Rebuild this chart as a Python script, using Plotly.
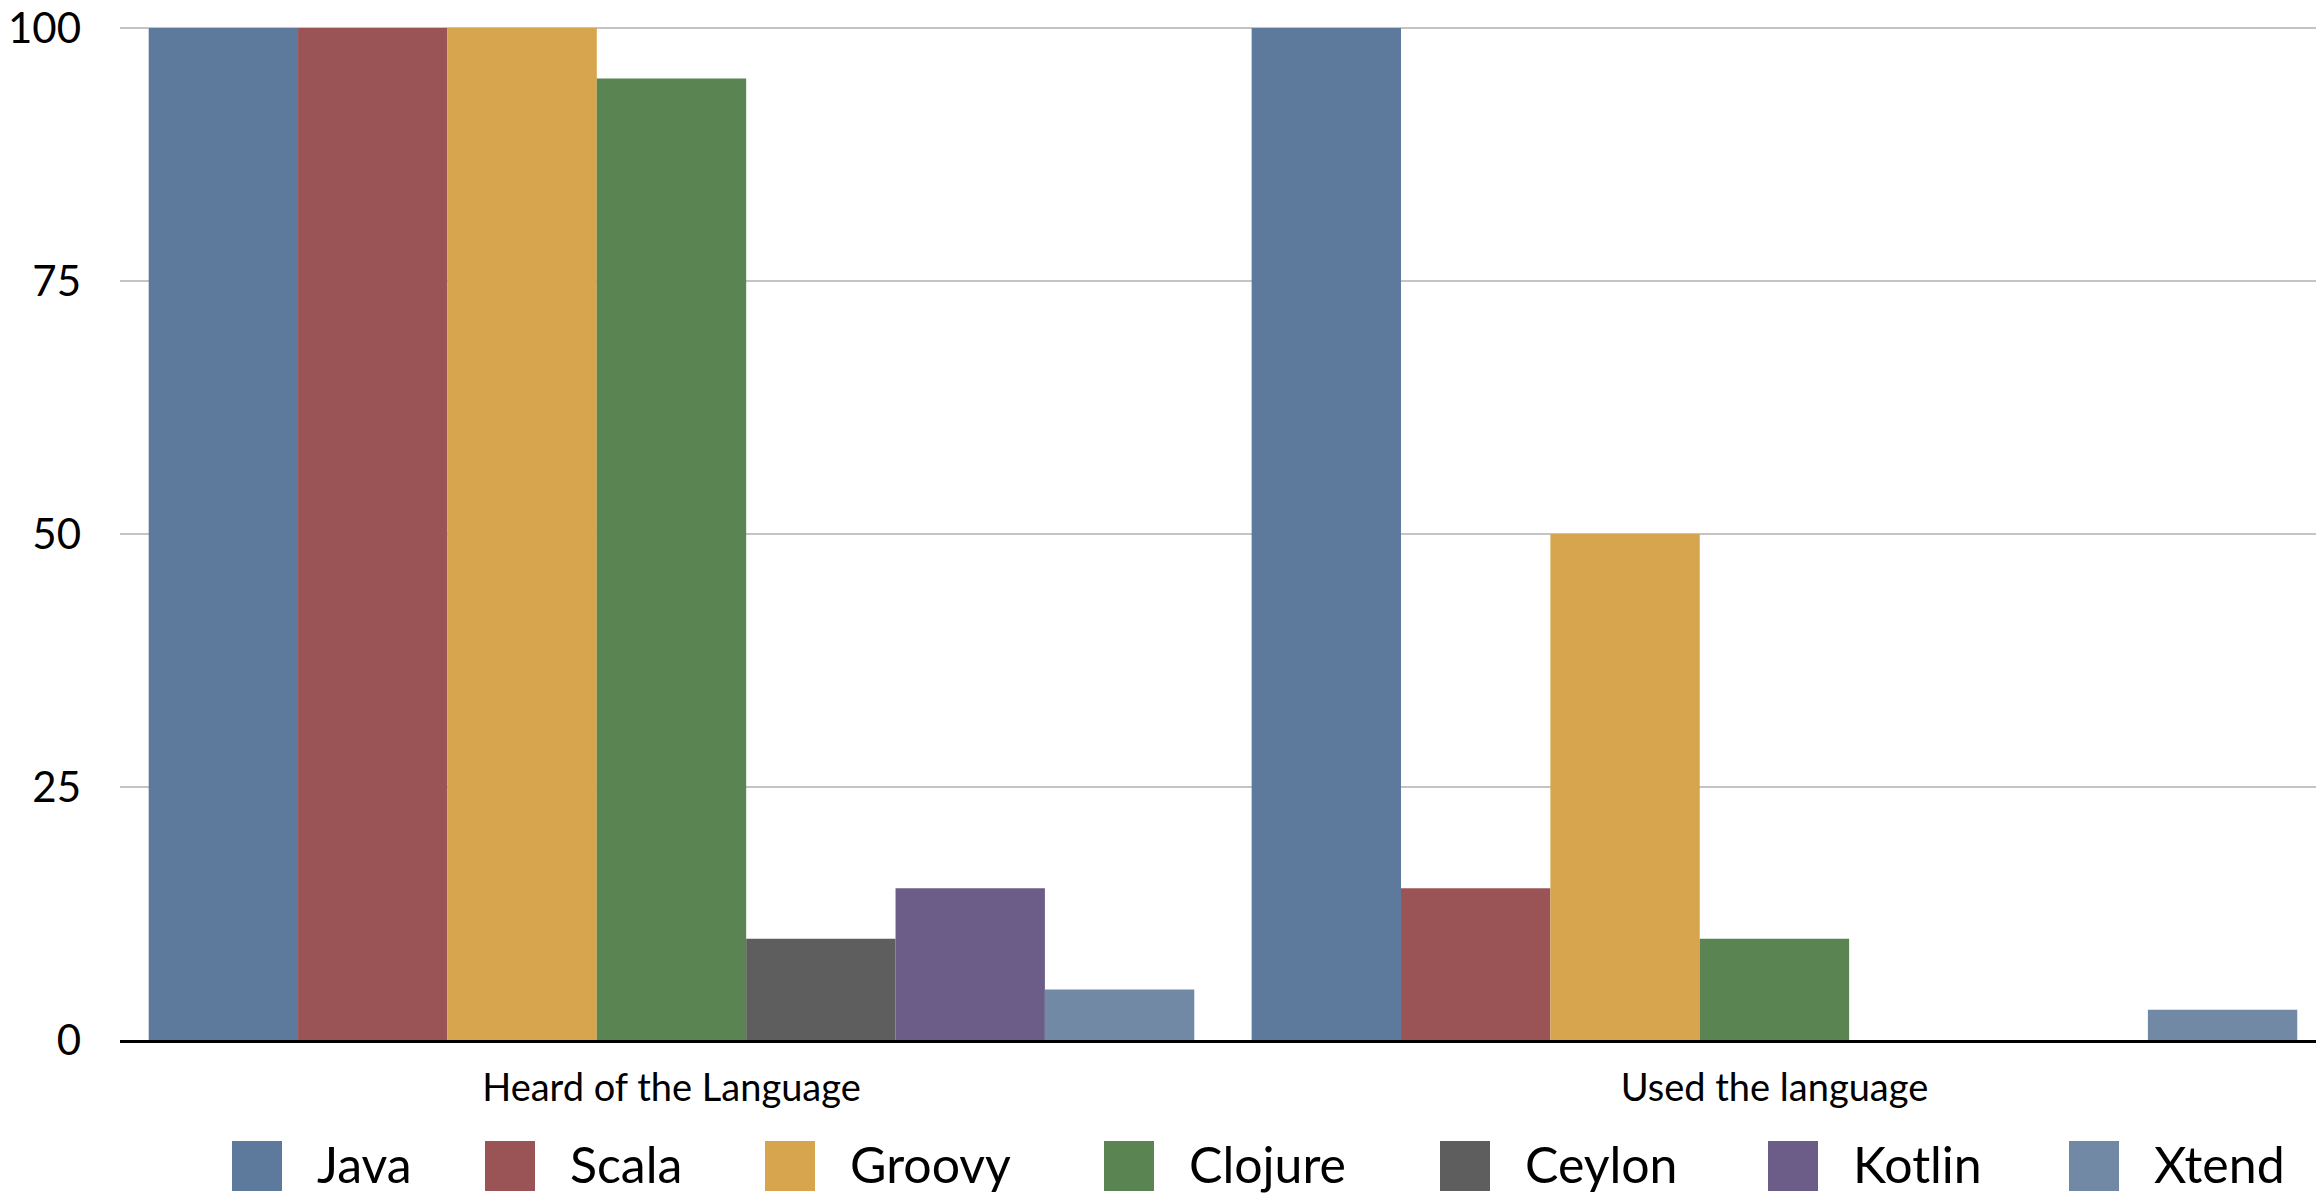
import plotly.graph_objects as go

categories = ["Heard of the Language", "Used the language"]
languages = ["Java", "Scala", "Groovy", "Clojure", "Ceylon", "Kotlin", "Xtend"]
heard = [100, 100, 100, 95, 10, 15, 5]
used = [100, 15, 50, 10, 0, 0, 3]
y_ticks = [0, 25, 50, 75, 100]

colors = ["#5d799c", "#9a5456", "#d7a54d", "#5a8553", "#5e5e5e", "#6c5c88", "#7289a6"]

W, H = 2316, 1196
L, R, T, B = 120, 0, 26, 156
FONT = "Lato"

fig = go.Figure()
for i, lang in enumerate(languages):
    fig.add_trace(go.Bar(
        name=lang,
        x=categories,
        y=[heard[i], used[i]],
        marker=dict(color=colors[i], line=dict(width=0)),
        showlegend=False,
    ))

# manual legend (swatch left edges in px)
sw_left = [232, 485, 765, 1104, 1440, 1768, 2069]
sw_size = 50
sw_top = 1141
pw = W - L - R
ph = H - T - B
def px2x(p):
    return (p - L) / pw
def py2y(p):
    return (H - B - p) / ph

shapes = []
annotations = []
for i, lang in enumerate(languages):
    x0 = sw_left[i]
    shapes.append(dict(type="rect", xref="paper", yref="paper",
                       x0=px2x(x0), x1=px2x(x0 + sw_size),
                       y0=py2y(sw_top + sw_size), y1=py2y(sw_top),
                       fillcolor=colors[i], line=dict(width=0), layer="above"))
    annotations.append(dict(xref="paper", yref="paper", x=px2x(x0 + sw_size + 33),
                            y=py2y(sw_top + sw_size / 2 - 2), text=lang, showarrow=False,
                            xanchor="left", yanchor="middle",
                            font=dict(family=FONT, size=50, color="black")))

fig.update_layout(
    width=W, height=H,
    margin=dict(l=L, r=R, t=T, b=B),
    paper_bgcolor="white", plot_bgcolor="white",
    barmode="group", bargap=0.052, bargroupgap=0,
    font=dict(family=FONT, color="black"),
    shapes=shapes, annotations=annotations,
    xaxis=dict(range=[-0.5, 1.491], showgrid=False, showline=True,
               linecolor="black", linewidth=2.5, ticks="",
               tickfont=dict(family=FONT, size=38, color="black"),
               ticklabelstandoff=13, fixedrange=True),
    yaxis=dict(range=[0, 100.2], tickvals=y_ticks, showgrid=True,
               gridcolor="#c4c4c4", gridwidth=2, zeroline=False,
               showline=False, ticks="",
               tickfont=dict(family=FONT, size=42, color="black"),
               ticklabelstandoff=38, fixedrange=True),
)

fig.write_html("out.html")
